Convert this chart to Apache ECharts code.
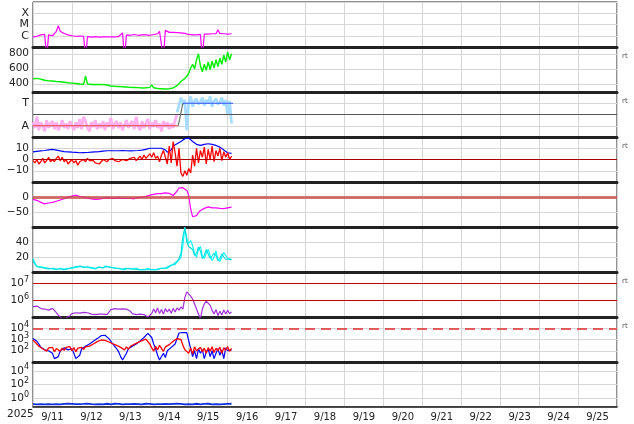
<!DOCTYPE html>
<html><head><meta charset="utf-8">
<script src="https://cdn.jsdelivr.net/npm/echarts@6/dist/echarts.min.js"></script>
<style>html,body{margin:0;padding:0;background:#fff}#c{width:634px;height:424px}</style>
</head><body><div id="c"></div>
<script>
// ---------- data ----------
const dayLabels = ['9/11','9/12','9/13','9/14','9/15','9/16','9/17','9/18','9/19','9/20','9/21','9/22','9/23','9/24','9/25'];
const yearLabel = '2025';
const STEP = 0.05; // days between samples, starting 9/11 00:00

// X-ray flux (µW/m², C=1, M=10, X=100)
const xray = [0.75,0.8,0.9,1.1,1.2,1.4,1.3,0.01,1.2,1.1,
1.0,1.2,2.5,7.8,2.5,2.0,1.6,2.2,1.2,1.1,
1.0,1.0,0.9,1.0,0.95,0.9,0.9,0.01,0.85,0.8,
0.75,0.8,0.85,0.8,0.75,0.8,0.8,0.85,0.8,0.75,
0.8,0.85,0.8,0.8,0.85,0.9,1.8,0.01,1.2,1.2,
1.1,1.2,1.3,1.2,1.1,1.2,1.2,1.3,1.2,1.2,
1.1,1.2,1.3,1.2,1.5,2.5,3.4,0.01,3.0,2.2,
2.0,2.8,2.0,2.0,1.9,2.0,1.8,1.7,1.6,1.5,
1.3,1.2,1.2,1.1,1.2,1.2,1.3,0.01,1.4,1.5,
1.4,1.5,1.5,1.6,1.5,3.4,1.6,1.5,1.5,1.6,
1.4,1.5,1.5];

// Solar wind speed (km/s)
const speed = [465,450,472,446,462,450,447,454,438,448,
436,444,430,440,426,432,420,428,413,422,
408,414,403,410,396,404,394,500,397,390,
390,384,392,383,390,380,388,374,384,370,
370,362,366,358,364,356,360,350,356,348,
352,344,350,340,348,336,344,340,346,338,
352,385,346,342,336,330,334,326,330,324,
334,336,345,360,375,395,430,455,470,500,
540,610,660,600,720,800,640,560,660,580,
690,590,700,610,720,630,740,660,780,690,
820,720,800];

// IMF sector (1 = Away, 3 = Toward)
const phiAway = [1.3,0.8,1.8,0.6,1.3,1.0,0.5,1.5,0.8,1.2,
1.4,0.7,1.3,0.6,1.0,1.5,0.8,1.2,0.7,1.4,
1.0,0.6,1.3,0.8,1.6,0.7,1.8,1.4,0.8,0.5,
1.3,0.9,1.5,0.7,1.2,0.8,1.4,0.6,1.3,0.9,
1.7,0.7,1.2,1.4,0.8,1.3,0.6,1.1,1.5,0.8,
1.2,1.4,0.7,1.8,0.9,0.6,1.4,0.8,1.2,1.6,
0.7,1.3,0.9,1.5,0.8,1.2,0.5,1.4,0.9,1.3,
0.7,1.2,0.8,1.5,2.0];
const phiToward = [2.2,2.8,3.5,2.9,3.3,0.6,3.1,3.6,2.7,3.2,3.4,2.9,3.1,3.5,2.8,3.3,3.0,3.6,2.7,3.2,3.4,2.9,3.1,3.5,2.8,3.3,2.0,3.2,1.2];
const phiTowardStart = 74; // sample index where the toward data begins
const sectorTimes = [0, 3.73, 3.85, 5.14];
const sectorCodes = [1, 1, 3, 3];

// IMF Bt and Bz (nT)
const bt = [6.8,7.0,7.2,7.4,7.6,7.8,8.0,8.2,8.5,8.8,
9.0,8.8,8.4,8.0,7.6,7.2,7.0,6.8,6.8,6.6,
6.5,6.4,6.3,6.2,6.0,6.0,6.1,6.0,6.2,6.3,
6.5,6.6,6.8,6.8,7.0,7.2,7.4,7.6,7.8,7.8,
7.8,7.9,7.8,7.7,7.8,7.8,7.9,8.0,7.8,7.8,
7.7,7.8,7.8,7.9,8.0,8.2,8.4,8.6,9.0,9.5,
10,10.2,10,9.8,10,10.2,10,9.6,8.5,6.5,
6.0,8.5,12,13,14,15,16,17,18.5,19.5,
19,17.5,16,14.5,13.5,13,12.5,13,13.5,14,
14,13.8,13.5,13,12.5,12,11,10,8.5,7,
6,5.5,5.4];
const bz = [-1,-3,0,-4,-2,1,-3,-1,2,-2,
0,-2,1,3,-1,2,-2,0,-4,-2,
0,-3,-1,-5,-2,-1,0,-2,1,-1,
0,-1,-3,-2,-4,-2,0,-1,-2,0,
-1,1,-1,0,-2,-1,0,1,-1,0,
1,0,2,-1,1,3,0,4,1,2,
5,2,6,1,3,-2,4,8,2,-4,
12,-3,16,6,-6,10,-12,-15,-10,-14,
-8,-12,4,-6,10,-3,8,2,11,-4,
9,0,12,-2,8,3,10,-1,7,2,
6,0,3];

// Dst (nT)
const dst = [-8,-9,-11,-14,-18,-22,-23,-21,-20,-19,
-18,-16,-14,-12,-10,-9,-6,-3,0,1,
3,5,6,4,2,1,0,-2,-4,-5,
-6,-7,-8,-7,-7,-6,-5,-4,-3,-3,
-4,-5,-5,-4,-3,-4,-5,-6,-5,-4,
-5,-6,-6,-4,-2,-1,0,1,2,4,
6,8,9,10,11,10,11,13,14,15,
12,8,5,8,20,30,33,31,27,22,
5,-40,-66,-68,-62,-52,-45,-42,-38,-35,
-33,-34,-36,-37,-36,-37,-38,-40,-39,-37,
-36,-35,-34];

// Proton density (two instruments, p/cc)
const densA = [18,12,8,6,7,5,6,4,5,6,
4,5,3,4,5,3,4,3,5,6,
5,7,6,8,7,9,7,8,6,7,
5,6,4,5,7,6,5,8,6,7,
5,6,4,5,6,4,5,3,4,5,
3,4,3,5,4,3,4,3,4,5,
4,3,4,3,4,5,4,5,6,5,
7,9,11,10,13,16,20,35,60,45,
38,42,35,25,20,30,34,22,18,25,
30,22,15,20,28,17,14,20,26,22,
18,20,17];
const densB = [15,10,7,5,6,4,5,5,4,5,
5,4,4,3,4,4,3,4,4,5,
6,6,7,7,8,8,6,7,7,6,
6,5,5,6,6,5,6,7,7,6,
6,5,5,4,5,5,4,4,5,4,
4,3,4,4,3,4,3,4,3,4,
3,4,3,4,3,4,5,4,5,6,
8,10,10,12,14,18,25,48,58,40,
34,36,30,22,25,33,28,18,22,30,
24,18,20,25,22,15,18,24,20,17,
15,17,16];

// Proton flux (log)
const protonFlux = [4.2e5,3.8e5,4.5e5,3.5e5,3.2e5,3.6e5,3.0e5,3.5e5,2.6e5,2.0e5,
3.3e5,2.5e5,1.8e5,1.3e5,1.0e5,0.8e5,0.8e5,0.9e5,1.0e5,1.2e5,
1.6e5,1.7e5,1.8e5,1.6e5,1.7e5,2.0e5,1.9e5,2.1e5,1.8e5,1.6e5,
1.5e5,1.6e5,1.4e5,1.6e5,1.5e5,1.3e5,1.5e5,1.6e5,1.4e5,1.6e5,
2.8e5,3.0e5,3.2e5,3.3e5,3.0e5,3.4e5,3.1e5,2.8e5,3.0e5,2.6e5,
2.2e5,1.6e5,1.5e5,1.4e5,1.6e5,1.5e5,1.3e5,1.4e5,1.2e5,1.0e5,
0.9e5,1.6e5,3.0e5,1.8e5,3.5e5,1.6e5,2.8e5,1.5e5,3.2e5,2.0e5,
3.0e5,1.7e5,3.3e5,2.0e5,3.5e5,2.6e5,4.0e5,3.0e5,1.5e6,3.2e6,
2.8e6,1.8e6,1.2e6,6.0e5,3.0e5,1.5e5,0.8e5,3.0e5,6.0e5,9.0e5,
7.0e5,5.0e5,2.5e5,1.5e5,2.8e5,1.2e5,2.2e5,1.3e5,2.6e5,1.5e5,
2.5e5,1.6e5,2.0e5];

// Electron flux (two channels, log)
const elecBlue = [1200,1000,700,400,200,150,120,180,100,150,
60,20,15,30,100,150,180,150,120,100,
150,60,20,15,40,150,200,250,300,400,
550,700,900,1200,1600,2200,2600,2400,1800,1200,
700,400,250,150,80,30,15,20,60,150,
200,250,300,400,550,750,1000,1500,2200,3500,
4200,1500,400,150,40,15,20,60,25,100,
150,200,300,400,600,3800,4000,4200,4000,4100,
4000,150,30,100,20,150,60,120,20,80,
150,30,100,20,60,150,40,120,20,180,
100,150,120];
const elecRed = [900,700,400,250,180,150,200,90,180,120,
200,80,160,220,90,170,110,200,140,230,
100,190,80,170,120,200,130,220,180,260,
320,400,500,650,800,900,1000,850,700,600,
500,420,350,300,250,200,180,120,220,140,
250,300,380,450,550,650,800,950,1100,1300,
400,180,90,250,120,300,160,90,220,260,
350,500,700,900,1200,1500,1000,300,120,180,
60,180,50,220,100,70,200,80,170,60,
190,90,230,70,170,100,210,60,190,110,
230,90,160];

// Bottom panel (log)
const lowFlux = [0.13,0.15,0.12,0.14,0.13,0.16,0.12,0.14,0.13,0.15,
0.12,0.14,0.13,0.15,0.12,0.13,0.14,0.12,0.15,0.13,
0.14,0.12,0.13,0.15,0.13,0.12,0.14,0.13,0.16,0.12,
0.13,0.14,0.12,0.15,0.13,0.14,0.12,0.13,0.15,0.14,
0.12,0.13,0.15,0.12,0.14,0.13,0.12,0.14,0.13,0.15,
0.13,0.12,0.14,0.16,0.13,0.14,0.12,0.13,0.15,0.12,
0.14,0.13,0.12,0.15,0.13,0.14,0.13,0.12,0.14,0.15,
0.13,0.12,0.14,0.13,0.15,0.12,0.14,0.13,0.12,0.15,
0.13,0.14,0.12,0.13,0.15,0.14,0.12,0.13,0.14,0.12,
0.15,0.13,0.12,0.14,0.13,0.15,0.12,0.14,0.13,0.12,
0.14,0.13,0.15];

const bzZero = 0, dstZero = 0, sectorMid = 2;
const protonThresholds = [1e6, 1e7];
const electronThreshold = 1e4;
const rtPanels = [1, 2, 3, 6, 7];

// ---------- chart ----------
const F = 'DejaVu Sans';
const t = xray.map((_, i) => Math.round(i * STEP * 1000) / 1000);
const pairs = (arr, off) => arr.map((v, i) => [t[i + (off || 0)], v]);

const TOP = 2, H = 45, LEFT = 33, W = 584;
const GRID_C = '#d6d6d6', TXT = '#222';
const grids = [], xAxes = [], yAxes = [], series = [];
for (let g = 0; g < 9; g++) {
  grids.push({left: LEFT, width: W, top: TOP + H * g, height: H, show: true,
    borderColor: '#222', borderWidth: 1, outerBoundsMode: 'none', containLabel: false});
  xAxes.push({type: 'value', gridIndex: g, min: 0, max: 15, interval: 1,
    axisLabel: {show: false}, axisTick: {show: false},
    axisLine: {show: true, onZero: false, lineStyle: {color: '#222', width: g < 8 ? 3 : 1.5}},
    splitLine: {show: true, lineStyle: {color: GRID_C, width: 1}}});
}
xAxes.push({type: 'category', gridIndex: 8, data: dayLabels, boundaryGap: true, position: 'bottom',
  axisLine: {show: false}, axisTick: {show: false}, splitLine: {show: false},
  axisLabel: {fontFamily: F, fontSize: 10, color: TXT, margin: 5, interval: 0}});

const supRich = {
  b: {fontFamily: F, fontSize: 10.5, color: TXT},
  s: {fontFamily: F, fontSize: 8, color: TXT, padding: [0, 0, 7, 0]}
};
const lbl = (fmt, extra) => Object.assign({fontFamily: F, fontSize: 10.5, color: TXT, margin: 4,
  showMinLabel: true, showMaxLabel: true, formatter: fmt}, extra || {});
const ySplit = {show: true, lineStyle: {color: GRID_C, width: 1}};
const exp = v => Math.round(Math.log10(v));
const isPow = v => Math.abs(Math.log10(v) - exp(v)) < 1e-6;
const minus = v => v < 0 ? '\u2212' + Math.abs(v) : String(v);

// 0 X-ray
yAxes.push({type: 'log', gridIndex: 0, min: 0.1, max: 1000, axisLine: {show: false}, axisTick: {show: false},
  splitLine: ySplit, axisLabel: lbl(v => isPow(v) ? ({0: 'C', 1: 'M', 2: 'X'}[exp(v)] || '') : '', {fontSize: 11})});
// 1 speed
yAxes.push({type: 'value', gridIndex: 1, min: 290, max: 890, axisLine: {show: false},
  axisTick: {show: false, customValues: [400, 600, 800]}, splitLine: ySplit,
  axisLabel: lbl(v => String(v), {customValues: [400, 600, 800]})});
// 2 sector
yAxes.push({type: 'value', gridIndex: 2, min: 0, max: 4, interval: 1, axisLine: {show: false}, axisTick: {show: false},
  splitLine: ySplit, axisLabel: lbl(v => ({1: 'A', 3: 'T'}[v] || ''), {fontSize: 11})});
// 3 Bt/Bz
yAxes.push({type: 'value', gridIndex: 3, min: -20, max: 20, interval: 10, axisLine: {show: false}, axisTick: {show: false},
  splitLine: ySplit, axisLabel: lbl(v => Math.abs(v) < 20 ? minus(v) : '')});
// 4 Dst
yAxes.push({type: 'value', gridIndex: 4, min: -100, max: 50, interval: 50, axisLine: {show: false}, axisTick: {show: false},
  splitLine: ySplit, axisLabel: lbl(v => (v === 0 || v === -50) ? minus(v) : '')});
// 5 density
yAxes.push({type: 'value', gridIndex: 5, min: 0, max: 60, interval: 20, axisLine: {show: false}, axisTick: {show: false},
  splitLine: ySplit, axisLabel: lbl(v => (v === 20 || v === 40) ? String(v) : '')});
// 6 proton flux
yAxes.push({type: 'log', gridIndex: 6, min: 1e5, max: 5e7, axisLine: {show: false}, axisTick: {show: false},
  splitLine: {show: false}, axisLabel: lbl(v => (isPow(v) && exp(v) >= 6 && exp(v) <= 7) ? '{b|10}{s|' + exp(v) + '}' : '', {rich: supRich})});
// 7 electrons
yAxes.push({type: 'log', gridIndex: 7, min: 10, max: 1e5, axisLine: {show: false}, axisTick: {show: false},
  splitLine: ySplit, axisLabel: lbl(v => (isPow(v) && exp(v) >= 2 && exp(v) <= 4) ? '{b|10}{s|' + exp(v) + '}' : '', {rich: supRich})});
// 8 bottom
yAxes.push({type: 'log', logBase: 100, gridIndex: 8, min: 0.05, max: 2e5, axisLine: {show: false}, axisTick: {show: false},
  splitLine: ySplit, axisLabel: lbl(v => (isPow(v) && [0, 2, 4].includes(exp(v))) ? '{b|10}{s|' + exp(v) + '}' : '', {rich: supRich})});

const line = (g, data, color, width, extra) => Object.assign({
  type: 'line', xAxisIndex: g, yAxisIndex: g, data: data, showSymbol: false, symbol: 'none',
  clip: true, animation: false, silent: true, lineStyle: {color: color, width: width || 1}, itemStyle: {color: color}
}, extra || {});
const hline = (vals, color, width, type) => ({silent: true, symbol: 'none', animation: false, label: {show: false},
  lineStyle: {color: color, width: width, type: type || 'solid'}, data: vals.map(v => ({yAxis: v}))});

series.push(line(0, pairs(xray), '#ff00ff', 1.2));
series.push(line(1, pairs(speed), '#00ee00', 1.4));
series.push(line(2, pairs(phiAway), '#ffb0ee', 2.8));
series.push(line(2, pairs(phiToward, phiTowardStart), '#a8dcff', 2.8));
series.push(line(2, sectorTimes.slice(0, 2).map((x, i) => [x, sectorCodes[i]]), '#e04040', 1.2,
  {markLine: hline([sectorMid], '#555', 1)}));
series.push(line(2, sectorTimes.slice(1, 3).map((x, i) => [x, sectorCodes[i + 1]]), '#607060', 1.2));
series.push(line(2, sectorTimes.slice(2, 4).map((x, i) => [x, sectorCodes[i + 2]]), '#3050ff', 1.2));
series.push(line(3, pairs(bt), '#0000ff', 1.2, {markLine: hline([bzZero], '#aa0000', 1.2)}));
series.push(line(3, pairs(bz), '#ff0000', 1.3));
series.push(line(4, pairs(dst), '#ff00ff', 1.2, {markLine: hline([dstZero], 'rgba(200,70,70,0.75)', 3)}));
series.push(line(5, pairs(densA), '#00ffff', 1.1));
series.push(line(5, pairs(densB), '#00dddd', 1.1));
series.push(line(6, pairs(protonFlux), '#a030d8', 1.2, {markLine: hline(protonThresholds, '#c00000', 1.2)}));
series.push(line(7, pairs(elecBlue), '#0000ff', 1.2, {markLine: hline([electronThreshold], '#e03030', 1.5, [10, 6])}));
series.push(line(7, pairs(elecRed), '#ff0000', 1.3));
series.push(line(8, pairs(lowFlux), '#1030e0', 1.8));

const graphics = [{type: 'text', left: 7, top: 409, style: {text: yearLabel, fontFamily: F, fontSize: 10.5, fill: TXT}}];
rtPanels.forEach(p => graphics.push({type: 'text', left: 622, top: TOP + H * p + 6,
  style: {text: 'rt', fontFamily: F, fontSize: 7, fill: '#555'}}));

const chart = echarts.init(document.getElementById('c'), null, {renderer: 'canvas'});
chart.setOption({backgroundColor: '#fff', animation: false, grid: grids, xAxis: xAxes, yAxis: yAxes,
  series: series, graphic: graphics});
</script></body></html>
